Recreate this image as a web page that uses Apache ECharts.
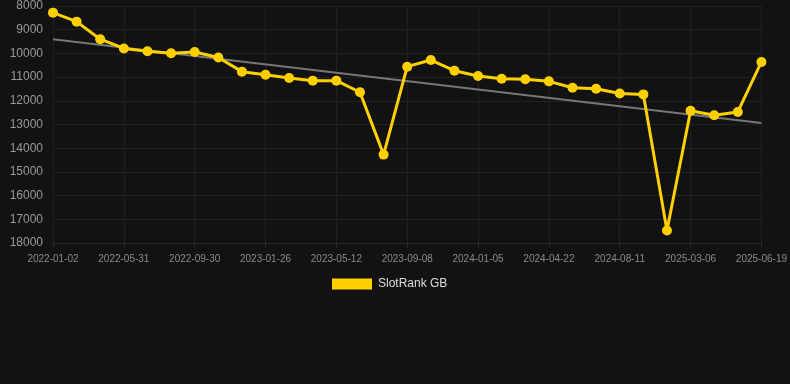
<!DOCTYPE html>
<html><head><meta charset="utf-8">
<script src="https://cdn.jsdelivr.net/npm/echarts@6/dist/echarts.min.js"></script>
<style>html,body{margin:0;padding:0;background:#121212;}#c{width:790px;height:384px;}</style>
</head><body><div id="c"></div>
<script>
const categories = ['2022-01-02','2022-02-20','2022-04-10','2022-05-31','2022-07-10','2022-08-20','2022-09-30','2022-11-10','2022-12-18','2023-01-26','2023-03-05','2023-04-08','2023-05-12','2023-06-25','2023-07-30','2023-09-08','2023-10-15','2023-11-25','2024-01-05','2024-02-15','2024-03-20','2024-04-22','2024-06-01','2024-07-05','2024-08-11','2024-10-01','2024-12-20','2025-03-06','2025-04-10','2025-05-15','2025-06-19'];
const rankValues = [8280,8660,9400,9790,9910,9990,9940,10170,10770,10900,11040,11150,11150,11640,14270,10560,10280,10730,10950,11070,11090,11180,11450,11490,11690,11730,17470,12420,12610,12470,10360];
const trendEnds = [9400, 12940];
const yTicks = [8000,9000,10000,11000,12000,13000,14000,15000,16000,17000,18000];

const trendData = categories.map((c,i)=> i===0 ? trendEnds[0] : (i===categories.length-1 ? trendEnds[1] : null));
const chart = echarts.init(document.getElementById('c'));
chart.setOption({
  backgroundColor:'#121212',
  animation:false,
  grid:{left:53,right:27,top:6,bottom:141},
  legend:{data:[{name:'SlotRank GB',icon:'rect'}],top:273,left:327,itemWidth:40,itemHeight:11,itemGap:10,
    textStyle:{color:'#dddddd',fontSize:12,padding:[0,0,0,1],fontFamily:'Liberation Sans, Arial, sans-serif'}},
  xAxis:{type:'category',data:categories,boundaryGap:false,
    axisLine:{lineStyle:{color:'#2a2a2a'}},
    axisTick:{show:true,interval:2,alignWithLabel:true,lineStyle:{color:'#2a2a2a'}},
    axisLabel:{interval:2,color:'#8a8a8a',fontSize:10,margin:11,fontFamily:'Liberation Sans, Arial, sans-serif'},
    splitLine:{show:true,interval:2,lineStyle:{color:'#1f1f1f'}}},
  yAxis:{type:'value',inverse:true,min:yTicks[0],max:yTicks[yTicks.length-1],interval:1000,
    axisLine:{show:false},axisTick:{show:false},
    axisLabel:{color:'#9a9a9a',fontSize:12,margin:10,formatter:v=>String(v),fontFamily:'Liberation Sans, Arial, sans-serif'},
    splitLine:{lineStyle:{color:'#222222'}}},
  series:[
    {name:'SlotRank GB',type:'line',data:rankValues,symbol:'circle',symbolSize:10,
      lineStyle:{color:'#FFD000',width:3},itemStyle:{color:'#FFD000'},z:3},
    {name:'trend',type:'line',data:trendData,connectNulls:true,symbol:'none',
      lineStyle:{color:'#777777',width:2},itemStyle:{color:'#777777'},z:2}
  ]
});
</script></body></html>
